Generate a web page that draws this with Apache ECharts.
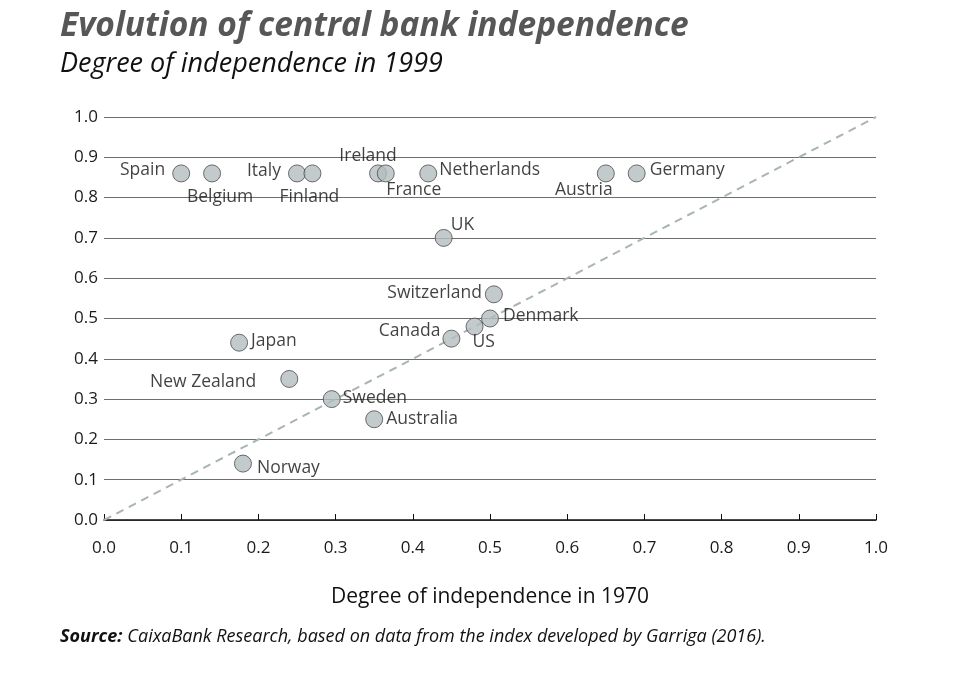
<!DOCTYPE html>
<html>
<head>
<meta charset="utf-8">
<script src="https://cdn.jsdelivr.net/npm/echarts@6/dist/echarts.min.js"></script>
<style>
html,body{margin:0;padding:0;background:#fff;}
#c{width:974px;height:682px;}
</style>
</head>
<body>
<div id="c"></div>
<script>
// Data
var countries = ['Spain','Belgium','Italy','Finland','Ireland','France','Netherlands','Austria','Germany','UK','Switzerland','Denmark','US','Canada','Japan','New Zealand','Sweden','Australia','Norway'];
var independence1970 = [0.10,0.14,0.25,0.27,0.355,0.365,0.42,0.65,0.69,0.44,0.505,0.50,0.48,0.45,0.175,0.24,0.295,0.35,0.18];
var independence1999 = [0.86,0.86,0.86,0.86,0.86,0.86,0.86,0.86,0.86,0.70,0.56,0.50,0.48,0.45,0.44,0.35,0.30,0.25,0.14];
var tickLabels = ['0.0','0.1','0.2','0.3','0.4','0.5','0.6','0.7','0.8','0.9','1.0'];
var diagonal = [[0,0],[1,1]];

// Label placement (style only)
var labelStyle = {
  'Spain': {position:'left', distance:7, offset:[0,-3]},
  'Belgium': {position:'bottom', distance:6, offset:[8,0]},
  'Italy': {position:'left', distance:7, offset:[0,-2]},
  'Finland': {position:'bottom', distance:6, offset:[-3,0]},
  'Ireland': {position:'top', distance:2, offset:[-10,3]},
  'France': {position:'bottom', distance:0, offset:[28,-1]},
  'Netherlands': {position:'right', distance:2, offset:[0,-3]},
  'Austria': {position:'bottom', distance:0, offset:[-22,-1]},
  'Germany': {position:'right', distance:4, offset:[0,-3]},
  'UK': {position:'right', distance:0, offset:[-2,-13]},
  'Switzerland': {position:'left', distance:3, offset:[0,-1]},
  'Denmark': {position:'right', distance:4, offset:[0,-2]},
  'US': {position:'bottom', distance:-3, offset:[9,0]},
  'Canada': {position:'left', distance:2, offset:[0,-8]},
  'Japan': {position:'right', distance:3, offset:[0,-2]},
  'New Zealand': {position:'left', distance:24, offset:[0,3]},
  'Sweden': {position:'right', distance:2, offset:[0,-1]},
  'Australia': {position:'right', distance:3, offset:[0,0]},
  'Norway': {position:'right', distance:5, offset:[0,4]}
};

var points = countries.map(function(n,i){
  var s = labelStyle[n];
  return {name:n, value:[independence1970[i], independence1999[i]],
    label:{show:true, formatter:n, position:s.position, distance:s.distance, offset:s.offset}};
});

var chart = echarts.init(document.getElementById('c'), null, {renderer:'canvas'});
var font = 'Open Sans';
chart.setOption({
  backgroundColor:'#ffffff',
  animation:false,
  title:[
    {text:'Evolution of central bank independence', left:55, top:4,
     textStyle:{fontFamily:font, fontStyle:'italic', fontWeight:'bold', fontSize:33.5, color:'#575757'}},
    {text:'Degree of independence in 1999', left:55, top:46,
     textStyle:{fontFamily:font, fontStyle:'italic', fontWeight:'normal', fontSize:27, color:'#111'}},
    {text:'{b|Source:} {i|CaixaBank Research, based on data from the index developed by Garriga (2016).}', left:55, top:623,
     textStyle:{rich:{
       b:{fontFamily:font, fontStyle:'italic', fontWeight:'bold', fontSize:18, color:'#111'},
       i:{fontFamily:font, fontStyle:'italic', fontWeight:'normal', fontSize:18, color:'#111'}}}}
  ],
  grid:{left:104, right:98, top:117, bottom:162, containLabel:false},
  xAxis:{type:'value', min:0, max:1, interval:0.1,
    name:'Degree of independence in 1970', nameLocation:'middle', nameGap:67,
    nameTextStyle:{fontFamily:font, fontSize:21, color:'#111'},
    axisLine:{show:true, lineStyle:{color:'#111', width:1.5}},
    axisTick:{show:true, inside:true, length:6, lineStyle:{color:'#111'}},
    axisLabel:{margin:20, fontFamily:font, fontSize:17, color:'#1a1a1a',
      formatter:function(v){return tickLabels[Math.round(v*10)];}},
    splitLine:{show:false}
  },
  yAxis:{type:'value', min:0, max:1, interval:0.1,
    axisLine:{show:false}, axisTick:{show:false},
    axisLabel:{margin:6, fontFamily:font, fontSize:17, color:'#1a1a1a',
      formatter:function(v){return tickLabels[Math.round(v*10)];}},
    splitLine:{show:true, lineStyle:{color:'#6e6e6e', width:1}}
  },
  series:[
    {type:'line', data:diagonal, symbol:'none', silent:true,
     lineStyle:{color:'#a9b4b4', width:2, type:[8,6]}, z:1},
    {type:'scatter', data:points, symbolSize:17, z:3,
     itemStyle:{color:'#b3bdbe', borderColor:'#4b4b4b', borderWidth:1},
     label:{fontFamily:font, fontSize:17.5, color:'#111'}}
  ]
});
</script>
</body>
</html>
